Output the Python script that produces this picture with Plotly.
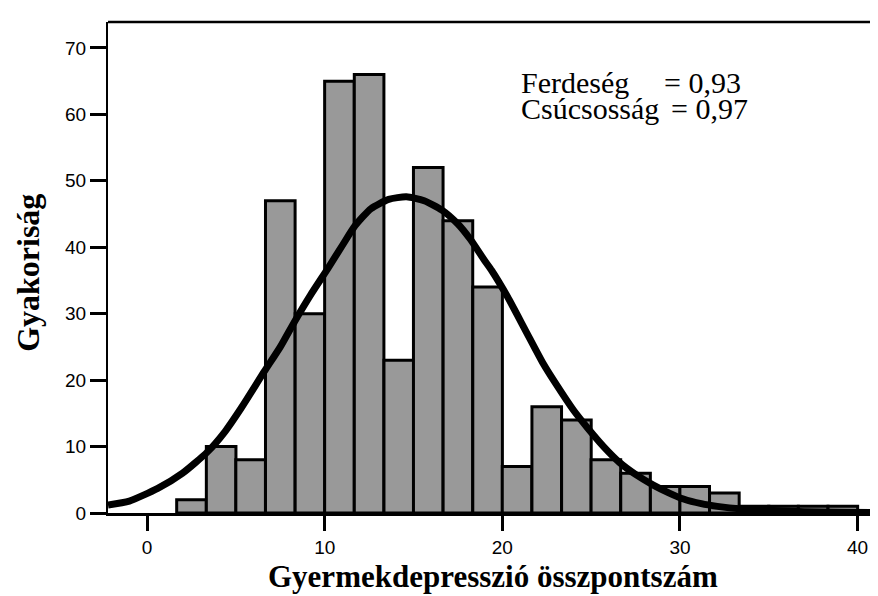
import plotly.graph_objects as go

# histogram bins (centres, width 5/3) and counts
bin_centers = [2.5, 4.17, 5.83, 7.5, 9.17, 10.83, 12.5, 14.17, 15.83, 17.5, 19.17,
               20.83, 22.5, 24.17, 25.83, 27.5, 29.17, 30.83, 32.5, 34.17, 35.83,
               37.5, 39.17]
counts = [2, 10, 8, 47, 30, 65, 66, 23, 52, 44, 34,
          7, 16, 14, 8, 6, 4, 4, 3, 1, 1,
          1, 1]
bin_width = 1.667

# normal curve
curve_x = [-2.2, -1.0, 0.6, 2.0, 3.4, 4.4, 5.3, 6.6, 7.5, 8.3, 9.2, 10.2, 11.0,
           11.7, 12.6, 13.6, 14.6, 15.6, 16.6, 17.5, 18.2, 19.0, 19.4, 20.3,
           21.3, 22.3, 23.0, 24.0, 24.8, 25.7, 26.6, 27.5, 28.5, 29.4, 30.2,
           31.2, 32.1, 33.5, 34.9, 37.0, 39.0, 41.6]
curve_y = [1.2, 1.8, 3.7, 6.0, 9.2, 12.3, 15.8, 21.3, 25.0, 28.8, 32.8, 36.9, 40.3,
           43.2, 45.8, 47.2, 47.6, 47.0, 45.6, 43.5, 41.2, 38.0, 36.5, 32.5,
           27.5, 22.5, 19.5, 15.5, 12.8, 10.0, 7.6, 5.8, 4.2, 3.0, 2.1,
           1.4, 1.0, 0.6, 0.4, 0.2, 0.1, 0.05]

x_ticks = [0, 10, 20, 30, 40]
y_ticks = [0, 10, 20, 30, 40, 50, 60, 70]

fig = go.Figure()
fig.add_trace(go.Bar(
    x=bin_centers, y=counts, width=bin_width,
    marker=dict(color="#999999", line=dict(color="black", width=3)),
))
fig.add_trace(go.Scatter(
    x=curve_x, y=curve_y, mode="lines",
    line=dict(color="black", width=7, shape="spline", smoothing=0.6),
))

tick_font = dict(family="Liberation Sans, Arial", size=19, color="black")
fig.update_layout(
    width=878, height=596,
    margin=dict(l=100, r=0, t=14, b=91),
    paper_bgcolor="white", plot_bgcolor="white",
    showlegend=False,
    xaxis=dict(range=[-2.2, 41.6], tickvals=x_ticks, ticks="outside",
               ticklen=15, tickwidth=3, tickcolor="black", showline=True,
               linewidth=3, linecolor="black", showgrid=False, zeroline=False,
               tickfont=tick_font),
    yaxis=dict(range=[0, 73.9], tickvals=y_ticks, ticks="outside",
               ticklen=16, tickwidth=3, tickcolor="black", showline=True,
               linewidth=2, linecolor="black", showgrid=False, zeroline=False,
               tickfont=tick_font),
    shapes=[dict(type="line", xref="paper", yref="paper", x0=0, x1=1, y0=1, y1=1,
                 line=dict(color="black", width=2.5))],
)

serif = "Liberation Serif, Times New Roman"
stat_font = dict(family=serif, size=30, color="black")
title_font = dict(family=serif, size=31, color="black")
y1, y2 = 0.876, 0.823
fig.add_annotation(text="Ferdeség", xref="paper", yref="paper", x=0.529, y=y1,
                   xanchor="left", yanchor="middle", showarrow=False,
                   borderpad=0, font=stat_font)
fig.add_annotation(text="= 0,93", xref="paper", yref="paper", x=0.714, y=y1,
                   xanchor="left", yanchor="middle", showarrow=False,
                   borderpad=0, font=stat_font)
fig.add_annotation(text="Csúcsosság", xref="paper", yref="paper", x=0.529, y=y2,
                   xanchor="left", yanchor="middle", showarrow=False,
                   borderpad=0, font=stat_font)
fig.add_annotation(text="= 0,97", xref="paper", yref="paper", x=0.722, y=y2,
                   xanchor="left", yanchor="middle", showarrow=False,
                   borderpad=0, font=stat_font)
fig.add_annotation(text="<b>Gyermekdepresszió összpontszám</b>", xref="paper",
                   yref="paper", x=0.495, y=-0.13, xanchor="center",
                   yanchor="middle", showarrow=False, font=title_font)
fig.add_annotation(text="<b>Gyakoriság</b>", xref="paper", yref="paper",
                   x=-0.103, y=0.4888, xanchor="center", yanchor="middle",
                   textangle=-90, showarrow=False,
                   font=dict(family=serif, size=32, color="black"))

fig.write_html("out.html")
